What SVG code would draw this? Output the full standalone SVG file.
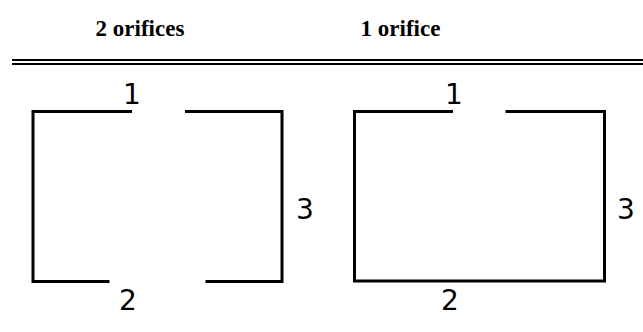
<svg xmlns="http://www.w3.org/2000/svg" width="643" height="332" viewBox="0 0 643 332">
<style>
.hdr{font-family:"Liberation Serif",serif;font-weight:bold;font-size:23px;fill:#000;text-anchor:middle}
.lbl{font-family:"DejaVu Sans",sans-serif;font-size:28px;fill:#000;text-anchor:middle}
.wall{fill:none;stroke:#000;stroke-width:3;stroke-linecap:square;stroke-linejoin:miter}
.rule{stroke:#000;stroke-width:2}
</style>
<rect width="643" height="332" fill="#fff"/>
<g id="header">
<text class="hdr" x="140" y="36">2 orifices</text>
<text class="hdr" x="400.5" y="36">1 orifice</text>
<line class="rule" x1="12" y1="60" x2="643" y2="60"/>
<line class="rule" x1="12" y1="64" x2="643" y2="64"/>
</g>
<g id="box-two-orifices">
<path class="wall" d="M130.5,111.5 H33 V281.5 H108"/>
<path class="wall" d="M186.5,111.5 H282 V281.5 H207"/>
<text class="lbl" x="132" y="104">1</text>
<text class="lbl" x="128" y="310">2</text>
<text class="lbl" x="305" y="219">3</text>
</g>
<g id="box-one-orifice">
<path class="wall" d="M451.5,111.5 H354.5 V281 H604.5 V111.5 H507"/>
<text class="lbl" x="454" y="104">1</text>
<text class="lbl" x="450" y="310">2</text>
<text class="lbl" x="626" y="219">3</text>
</g>
<g id="connectors"/>
</svg>
